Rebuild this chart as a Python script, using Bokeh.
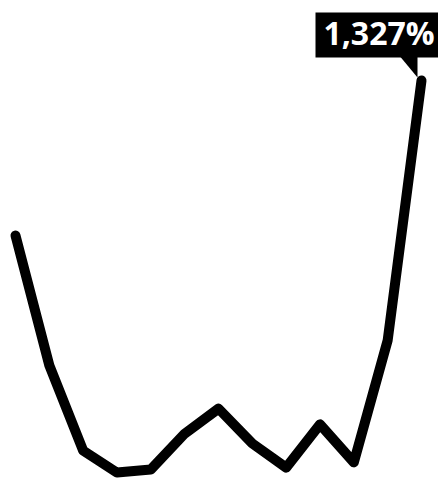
from bokeh.plotting import figure
from bokeh.models import Range1d, Label
from bokeh.embed import file_html
from bokeh.resources import INLINE

# Data (share of change, %)
periods = list(range(13))
values = [825, 405, 129, 58, 68, 184, 265, 152, 74, 214, 91, 486, 1327]
label_text = "1,327%"

W, H = 438, 479
X0, X1 = -0.4433, 12.5025
Y0, Y1 = 35.6, 1585.9

p = figure(width=W, height=H, output_backend="svg", toolbar_location=None,
           x_range=Range1d(X0, X1), y_range=Range1d(Y0, Y1),
           min_border=0, min_border_left=0, min_border_right=0,
           min_border_top=0, min_border_bottom=0)
p.axis.visible = False
p.grid.visible = False
p.outline_line_color = None
p.background_fill_color = "white"
p.border_fill_color = "white"

p.line(periods, values, line_color="black", line_width=10,
       line_join="round", line_cap="round")

# callout box anchored at the last point (offsets in screen px)
sx = (X1 - X0) / W
sy = (Y1 - Y0) / H
lx, ly = periods[-1], values[-1]

def px(dx, dy):
    return lx + dx * sx, ly - dy * sy

bl = px(-106, -23)
tr = px(17, -68)
p.quad(left=bl[0], right=tr[0], bottom=bl[1], top=tr[1],
       fill_color="black", line_color=None)
t1, t2, t3 = px(-21, -23.5), px(-4, -23.5), px(-4, -3)
p.patch([t1[0], t2[0], t3[0]], [t1[1], t2[1], t3[1]],
        fill_color="black", line_color=None)

p.add_layout(Label(x=lx, y=ly, x_offset=-42.5, y_offset=48, text=label_text,
                   text_color="white", text_font="Open Sans",
                   text_font_style="bold", text_font_size="32px",
                   text_align="center", text_baseline="alphabetic"))

open("out.html", "w").write(file_html(p, INLINE))
